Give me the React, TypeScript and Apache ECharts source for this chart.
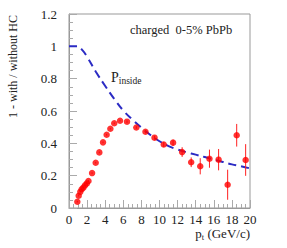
import React, { useEffect, useRef } from "react";
import * as echarts from "echarts";

const ptValues = [0.92, 1.07, 1.25, 1.4, 1.58, 1.77, 1.97, 2.15, 2.55, 2.95, 3.35, 3.76, 4.16, 4.57, 5.0, 5.64, 6.41, 7.44, 8.45, 9.45, 10.47, 11.5, 12.5, 13.5, 14.5, 15.52, 16.53, 17.53, 18.53, 19.52];
const ratioValues = [0.039, 0.076, 0.1, 0.116, 0.126, 0.14, 0.152, 0.167, 0.216, 0.28, 0.344, 0.406, 0.453, 0.49, 0.524, 0.54, 0.534, 0.498, 0.472, 0.435, 0.393, 0.404, 0.346, 0.283, 0.258, 0.305, 0.299, 0.144, 0.45, 0.297];
const ratioErrors = [0.005, 0.005, 0.005, 0.005, 0.005, 0.005, 0.005, 0.005, 0.005, 0.005, 0.005, 0.005, 0.005, 0.005, 0.005, 0.005, 0.008, 0.008, 0.01, 0.012, 0.015, 0.02, 0.03, 0.03, 0.05, 0.056, 0.066, 0.093, 0.07, 0.098];

const curveX = [0, 0.9, 1.5, 2, 3, 4, 5, 6, 7, 8, 9, 10, 11, 12, 13, 14, 15, 16, 17, 18, 19, 20];
const curveY = [1.0, 1.0, 0.975, 0.935, 0.84, 0.755, 0.675, 0.603, 0.547, 0.497, 0.452, 0.413, 0.383, 0.362, 0.345, 0.33, 0.315, 0.3, 0.285, 0.27, 0.258, 0.245];

const xTicks = [0, 2, 4, 6, 8, 10, 12, 14, 16, 18, 20];
const yTicks = [0, 0.2, 0.4, 0.6, 0.8, 1, 1.2];

const FONT = "'Liberation Serif', 'DejaVu Serif', serif";

export default function App() {
  const ref = useRef<HTMLDivElement>(null);
  useEffect(() => {
    if (!ref.current) return;
    const chart = echarts.init(ref.current, null, { renderer: "svg" });
    const axisCommon = {
      axisLine: { show: true, lineStyle: { color: "#999", width: 1 } },
      axisTick: { show: true, inside: true, length: 8, lineStyle: { color: "#aaa" } },
      minorTick: { show: true, splitNumber: 4, length: 4, lineStyle: { color: "#aaa" } },
      splitLine: { show: false },
      axisLabel: { color: "#222", fontFamily: FONT, fontSize: 13 },
    };
    chart.setOption({
      animation: false,
      grid: { left: 69, right: 37, top: 14, bottom: 40, show: true, borderColor: "#999", borderWidth: 1, backgroundColor: "transparent" },
      xAxis: {
        type: "value",
        min: xTicks[0],
        max: xTicks[xTicks.length - 1],
        interval: 2,
        ...axisCommon,
        axisLabel: { ...axisCommon.axisLabel, margin: 5 },
      },
      yAxis: {
        type: "value",
        min: yTicks[0],
        max: yTicks[yTicks.length - 1],
        interval: 0.2,
        ...axisCommon,
        axisLabel: { ...axisCommon.axisLabel, margin: 12, formatter: (v: number) => String(Math.round(v * 10) / 10) },
      },
      graphic: [
        {
          type: "text",
          x: 13,
          y: 118,
          rotation: Math.PI / 2,
          style: { text: "1 - with / without HC", font: `12px ${FONT}`, fill: "#222", textAlign: "left", textVerticalAlign: "middle" },
        },
        {
          type: "text",
          x: 130,
          y: 30,
          style: { text: "charged  0-5% PbPb", font: `12.5px ${FONT}`, fill: "#222", textAlign: "left", textVerticalAlign: "middle" },
        },
        {
          type: "text",
          x: 111,
          y: 77,
          style: {
            text: "{a|P}{b|inside}",
            rich: {
              a: { fontFamily: FONT, fontSize: 14, fill: "#222" },
              b: { fontFamily: FONT, fontSize: 9.5, fill: "#222", padding: [7, 0, 0, 0] },
            },
            textAlign: "left",
            textVerticalAlign: "middle",
          },
        },
        {
          type: "text",
          x: 250,
          y: 233,
          style: {
            text: "{a|p}{b|t}{a| (GeV/c)}",
            rich: {
              a: { fontFamily: FONT, fontSize: 13, fill: "#222" },
              b: { fontFamily: FONT, fontSize: 8.5, fill: "#222", padding: [7, 0, 0, 0] },
            },
            textAlign: "right",
            textVerticalAlign: "middle",
          },
        },
      ],
      series: [
        {
          type: "line",
          data: curveX.map((x, i) => [x, curveY[i]]),
          smooth: 0.4,
          symbol: "none",
          lineStyle: { color: "#2b2bc4", width: 2, type: [8, 5] },
          z: 2,
        },
        {
          type: "custom",
          data: ptValues.map((x, i) => [x, ratioValues[i], ratioErrors[i]]),
          renderItem: (params: any, api: any) => {
            const x = api.value(0);
            const y = api.value(1);
            const e = api.value(2);
            const p1 = api.coord([x, y - e]);
            const p2 = api.coord([x, y + e]);
            return {
              type: "line",
              shape: { x1: p1[0], y1: p1[1], x2: p2[0], y2: p2[1] },
              style: { stroke: "#ff2020", lineWidth: 1 },
            };
          },
          z: 3,
        },
        {
          type: "scatter",
          data: ptValues.map((x, i) => [x, ratioValues[i]]),
          symbol: "circle",
          symbolSize: 6.5,
          itemStyle: { color: "#ff0000" },
          z: 4,
        },
      ],
    });
    return () => chart.dispose();
  }, []);
  return <div ref={ref} style={{ width: 287, height: 248, position: "absolute", left: 0, top: 0 }} />;
}
